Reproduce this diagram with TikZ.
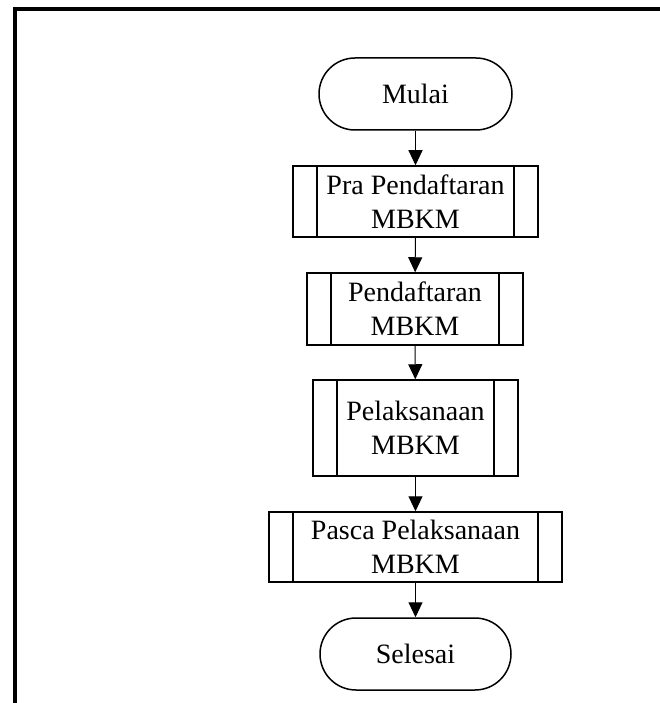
\documentclass[tikz,border=0pt]{standalone}
\usepackage{fontspec}
\setmainfont{Liberation Serif}
\usetikzlibrary{arrows.meta}
\tikzset{
  terminal/.style={draw,line width=1.5pt,rounded corners=36pt,inner sep=0pt,
    minimum height=72pt},
  subproses/.style={draw,line width=1.5pt,inner sep=0pt,align=center,
    path picture={
      \draw[line width=1.5pt] ([xshift=24pt]path picture bounding box.north west) -- ([xshift=24pt]path picture bounding box.south west);
      \draw[line width=1.5pt] ([xshift=-24pt]path picture bounding box.north east) -- ([xshift=-24pt]path picture bounding box.south east);
    }},
  alur/.style={line width=1pt,-{Triangle[length=15pt,width=14pt]}}
}
\begin{document}
\begin{tikzpicture}[x=1pt,y=-1pt,font=\fontsize{28}{34}\selectfont]
\useasboundingbox (0,0) rectangle (660,703);
\draw[line width=4pt] (15,703) -- (15,9) -- (660,9);

\node[terminal,minimum width=193pt] (mulai) at (415.5,94) {Mulai};
\node[subproses,minimum width=245pt,minimum height=71pt] (pra) at (415.5,201.5) {Pra Pendaftaran\\MBKM};
\node[subproses,minimum width=216pt,minimum height=72pt] (daftar) at (415,309) {Pendaftaran\\MBKM};
\node[subproses,minimum width=205pt,minimum height=96pt] (laksana) at (415.5,428) {Pelaksanaan\\MBKM};
\node[subproses,minimum width=293pt,minimum height=70pt] (pasca) at (415.5,547) {Pasca Pelaksanaan\\MBKM};
\node[terminal,minimum width=191pt] (selesai) at (415.5,654) {Selesai};

\draw[alur] (mulai) -- (pra);
\draw[alur] (pra) -- (daftar);
\draw[alur] (daftar) -- (laksana);
\draw[alur] (laksana) -- (pasca);
\draw[alur] (pasca) -- (selesai);
\end{tikzpicture}
\end{document}
